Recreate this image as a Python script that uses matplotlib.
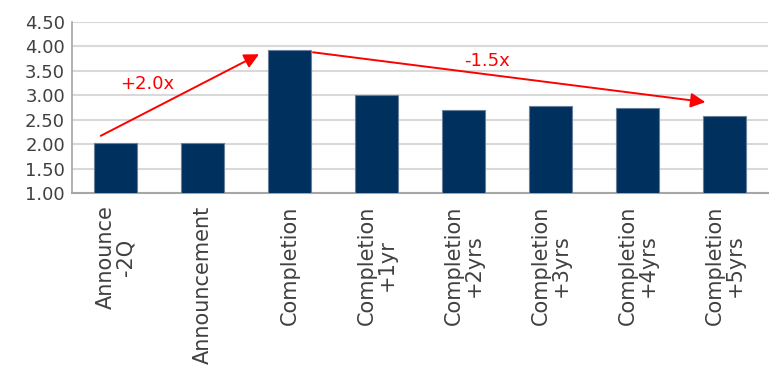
import numpy as np
import matplotlib.pyplot as plt
from matplotlib import rcParams

rcParams['font.family'] = ['DejaVu Sans']
rcParams['font.size'] = 13

# Daten
categories = ['Announce\n-2Q', 'Announcement', 'Completion', 'Completion\n+1yr',
              'Completion\n+2yrs', 'Completion\n+3yrs', 'Completion\n+4yrs',
              'Completion\n+5yrs']
values = [2.02, 2.02, 3.92, 3.01, 2.69, 2.79, 2.73, 2.57]

bar_color = '#00305e'
grid_color = '#d9d9d9'
axis_color = '#a6a6a6'
text_color = '#404040'

fig = plt.figure(figsize=(7.76, 3.71), dpi=100)
ax = fig.add_axes([0.0928, 0.4798, 0.8969, 0.4609])

x = np.arange(len(categories))
ax.bar(x, values, width=0.5, color=bar_color, edgecolor='#6a7f99',
       linewidth=0.8, zorder=3)

ax.set_xlim(-0.5, len(categories) - 0.5)
ax.set_ylim(1.0, 4.5)
yticks = np.arange(1.0, 4.51, 0.5)
ax.set_yticks(yticks)
ax.set_yticklabels([f'{v:.2f}' for v in yticks], color=text_color, fontsize=13)
ax.set_xticks(x)
ax.set_xticklabels(categories, rotation=90, ha='center', va='top',
                   multialignment='center', color=text_color, fontsize=15,
                   linespacing=1.0)
ax.tick_params(axis='y', length=0, pad=5)
ax.tick_params(axis='x', length=0, pad=9)

ax.grid(axis='y', color=grid_color, linewidth=1.5, zorder=0)
ax.set_axisbelow(True)
for side in ['top', 'right']:
    ax.spines[side].set_visible(False)
ax.spines['left'].set_color(axis_color)
ax.spines['bottom'].set_color(axis_color)
ax.spines['left'].set_linewidth(1.2)
ax.spines['bottom'].set_linewidth(1.5)

# Pfeile
arrow_kw = dict(arrowstyle='-|>', color='red', lw=1.4, mutation_scale=22,
                shrinkA=0, shrinkB=0)
ax.annotate('', xy=(1.65, 3.84), xytext=(-0.17, 2.17), arrowprops=arrow_kw)
ax.annotate('', xy=(6.78, 2.86), xytext=(2.27, 3.88), arrowprops=arrow_kw)
ax.text(0.36, 3.24, '+2.0x', color='red', fontsize=13, ha='center', va='center')
ax.text(4.27, 3.71, '-1.5x', color='red', fontsize=13, ha='center', va='center')

fig.savefig('out.png', dpi=100)
